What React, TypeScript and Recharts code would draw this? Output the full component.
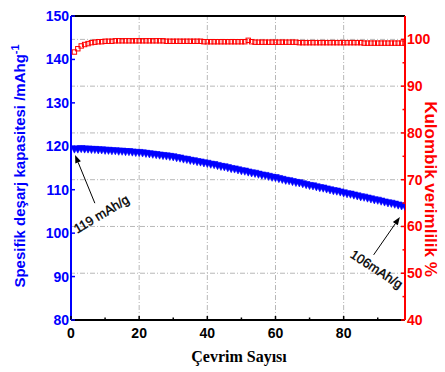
import React from "react";
import {
  ComposedChart,
  Scatter,
  XAxis,
  YAxis,
  ReferenceLine,
  ReferenceDot,
} from "recharts";

const cycles = Array.from({ length: 98 }, (_, i) => i + 1);

// specific discharge capacity, mAh/g
const capacity = [
  119.3, 119.3, 119.4, 119.3, 119.3, 119.2, 119.2, 119.1, 119.1, 119.0,
  119.0, 118.9, 118.9, 118.8, 118.8, 118.7, 118.7, 118.6, 118.5, 118.5,
  118.4, 118.3, 118.2, 118.1, 118.0, 117.9, 117.8, 117.7, 117.6, 117.5,
  117.3, 117.2, 117.0, 116.9, 116.7, 116.6, 116.4, 116.3, 116.1, 116.0,
  115.8, 115.7, 115.5, 115.3, 115.2, 115.0, 114.8, 114.7, 114.5, 114.3,
  114.2, 114.0, 113.8, 113.7, 113.5, 113.3, 113.2, 113.0, 112.8, 112.7,
  112.5, 112.3, 112.1, 112.0, 111.8, 111.6, 111.5, 111.3, 111.1, 110.9,
  110.8, 110.6, 110.4, 110.3, 110.1, 109.9, 109.7, 109.6, 109.4, 109.2,
  109.0, 108.9, 108.7, 108.5, 108.3, 108.2, 108.0, 107.8, 107.6, 107.5,
  107.3, 107.1, 106.9, 106.8, 106.6, 106.4, 106.2, 106.1,
];

// coulombic efficiency, %
const efficiency = [
  97.3, 98.0, 98.6, 98.9, 99.1, 99.3, 99.4, 99.5, 99.5, 99.6,
  99.6, 99.6, 99.7, 99.7, 99.7, 99.7, 99.7, 99.7, 99.7, 99.7,
  99.7, 99.7, 99.7, 99.7, 99.7, 99.7, 99.7, 99.6, 99.6, 99.6,
  99.6, 99.6, 99.6, 99.6, 99.6, 99.6, 99.6, 99.6, 99.5, 99.5,
  99.5, 99.5, 99.5, 99.5, 99.5, 99.5, 99.5, 99.5, 99.5, 99.5,
  99.5, 99.8, 99.5, 99.4, 99.4, 99.4, 99.4, 99.4, 99.4, 99.4,
  99.4, 99.4, 99.4, 99.4, 99.4, 99.4, 99.3, 99.3, 99.3, 99.3,
  99.3, 99.3, 99.3, 99.3, 99.3, 99.3, 99.3, 99.3, 99.3, 99.3,
  99.3, 99.3, 99.3, 99.3, 99.3, 99.2, 99.2, 99.2, 99.2, 99.2,
  99.2, 99.2, 99.2, 99.2, 99.2, 99.2, 99.2, 99.2,
];

const xTicks = [0, 10, 20, 30, 40, 50, 60, 70, 80, 90];
const xMajor = [0, 20, 40, 60, 80];
const leftTicks = [80, 85, 90, 95, 100, 105, 110, 115, 120, 125, 130, 135, 140, 145, 150];
const rightTicks = [40, 45, 50, 55, 60, 65, 70, 75, 80, 85, 90, 95, 100];
const gridY = [50, 60, 70, 80, 90, 100];
const gridX = [20, 40, 60, 80];

const capData = cycles.map((c, i) => ({ x: c, y: capacity[i] }));
const effData = cycles.map((c, i) => ({ x: c, y: efficiency[i] }));

const BLUE = "#0000ff";
const RED = "#ff0000";
const FONT = "'Liberation Sans', Arial, sans-serif";

const Triangle = (p: any) => (
  <polygon
    points={`${p.cx - 3.8},${p.cy - 3.4} ${p.cx + 3.8},${p.cy - 3.4} ${p.cx},${p.cy + 3.8}`}
    fill={BLUE}
    stroke={BLUE}
    strokeWidth={0.6}
  />
);

const Square = (p: any) => (
  <rect x={p.cx - 2.2} y={p.cy - 2.2} width={4.4} height={4.4} fill="none" stroke={RED} strokeWidth={1} />
);

const LeftTick = (p: any) => {
  const v = p.payload.value;
  const major = v % 10 === 0;
  return (
    <g>
      <line x1={p.x} x2={p.x + (major ? 4 : 2.5)} y1={p.y} y2={p.y} stroke={BLUE} strokeWidth={1.5} />
      {major && (
        <text x={p.x - 2} y={p.y + 5} textAnchor="end" fill={BLUE} fontSize={14} fontWeight="bold" fontFamily={FONT}>
          {v}
        </text>
      )}
    </g>
  );
};

const RightTick = (p: any) => {
  const v = p.payload.value;
  const major = v % 10 === 0;
  return (
    <g>
      <line x1={p.x - (major ? 4 : 2.5)} x2={p.x} y1={p.y} y2={p.y} stroke={RED} strokeWidth={1.5} />
      {major && (
        <text x={p.x + 2} y={p.y + 5} textAnchor="start" fill={RED} fontSize={14} fontWeight="bold" fontFamily={FONT}>
          {v}
        </text>
      )}
    </g>
  );
};

const BottomTick = (p: any) => {
  const v = p.payload.value;
  const major = xMajor.includes(v);
  return (
    <g>
      <line x1={p.x} x2={p.x} y1={p.y} y2={p.y - (major ? 4 : 2.5)} stroke="#000" strokeWidth={1.5} />
      {major && (
        <text x={p.x} y={p.y + 18} textAnchor="middle" fill="#000" fontSize={14} fontWeight="bold" fontFamily={FONT}>
          {v}
        </text>
      )}
    </g>
  );
};

const Arrow = (p: any) => {
  const { x1, y1, x2, y2 } = p;
  const a = Math.atan2(y2 - y1, x2 - x1);
  const L = 8;
  const W = 3;
  const bx = x2 - L * Math.cos(a);
  const by = y2 - L * Math.sin(a);
  const nx = -Math.sin(a) * W;
  const ny = Math.cos(a) * W;
  return (
    <g>
      <line x1={x1} y1={y1} x2={bx} y2={by} stroke="#000" strokeWidth={1} />
      <polygon points={`${x2},${y2} ${bx + nx},${by + ny} ${bx - nx},${by - ny}`} fill="#000" />
    </g>
  );
};

const noteShape = (text: string, angle: number) => (p: any) => (
  <text
    x={p.cx}
    y={p.cy}
    transform={`rotate(${angle} ${p.cx} ${p.cy})`}
    textAnchor="middle"
    dominantBaseline="middle"
    fontSize={13}
    fontFamily={FONT}
    fill="#000"
    stroke="#000"
    strokeWidth={0.35}
  >
    {text}
  </text>
);

export default function App() {
  return (
    <div style={{ position: "absolute", left: 0, top: 0, width: 445, height: 372, background: "#fff" }}>
      <ComposedChart width={445} height={372} margin={{ top: 16, right: 0, left: 0, bottom: 0 }}>
        <XAxis
          type="number"
          dataKey="x"
          domain={[0, 98]}
          ticks={xTicks}
          tick={<BottomTick />}
          tickLine={false}
          tickSize={0}
          tickMargin={0}
          height={52}
          axisLine={{ stroke: "#000", strokeWidth: 2 }}
          allowDataOverflow
        />
        <YAxis
          yAxisId="left"
          type="number"
          dataKey="y"
          domain={[80, 150]}
          ticks={leftTicks}
          tick={<LeftTick />}
          tickLine={false}
          tickSize={0}
          tickMargin={0}
          width={71}
          axisLine={{ stroke: BLUE, strokeWidth: 2 }}
          allowDataOverflow
        />
        <YAxis
          yAxisId="right"
          orientation="right"
          type="number"
          dataKey="y"
          domain={[40, 105]}
          ticks={rightTicks}
          tick={<RightTick />}
          tickLine={false}
          tickSize={0}
          tickMargin={0}
          width={40}
          axisLine={{ stroke: RED, strokeWidth: 2 }}
          allowDataOverflow
        />
        {gridY.map((v) => (
          <ReferenceLine key={"gy" + v} yAxisId="right" y={v} stroke="#b8b8b8" strokeDasharray="5 2 1 2" strokeWidth={1} />
        ))}
        {gridX.map((v) => (
          <ReferenceLine key={"gx" + v} yAxisId="left" x={v} stroke="#b8b8b8" strokeDasharray="5 2 1 2" strokeWidth={1} />
        ))}
        <ReferenceLine yAxisId="left" y={150} stroke="#000" strokeWidth={2} />
        <Scatter yAxisId="right" data={effData} shape={<Square />} isAnimationActive={false} />
        <Scatter yAxisId="left" data={capData} shape={<Triangle />} isAnimationActive={false} />
        <ReferenceLine
          yAxisId="left"
          segment={[{ x: 7, y: 106.9 }, { x: 1.2, y: 118.0 }]}
          shape={<Arrow />}
          ifOverflow="visible"
        />
        <ReferenceLine
          yAxisId="left"
          segment={[{ x: 88.8, y: 95.0 }, { x: 96.5, y: 103.7 }]}
          shape={<Arrow />}
          ifOverflow="visible"
        />
        <ReferenceDot yAxisId="left" x={9.1} y={104.2} r={0} shape={noteShape("119 mAh/g", -31)} ifOverflow="visible" />
        <ReferenceDot yAxisId="left" x={89.5} y={91.5} r={0} shape={noteShape("106mAh/g", 33)} ifOverflow="visible" />
      </ComposedChart>
      <svg width={445} height={372} style={{ position: "absolute", left: 0, top: 0, pointerEvents: "none" }}>
        <text
          transform="translate(25 166) rotate(-90)"
          textAnchor="middle"
          fill={BLUE}
          fontSize={15}
          fontWeight="bold"
          fontFamily={FONT}
        >
          Spesifik deşarj kapasitesi /mAhg
          <tspan dy={-6} fontSize={11}>-1</tspan>
        </text>
        <text
          transform="translate(425 189) rotate(90)"
          textAnchor="middle"
          fill={RED}
          fontSize={17}
          fontWeight="bold"
          fontFamily={FONT}
        >
          Kulombik verimlilik %
        </text>
        <text x={239} y={362} textAnchor="middle" fill="#000" fontSize={16} fontWeight="bold" fontFamily="'Liberation Serif', 'DejaVu Serif', serif">
          Çevrim Sayısı
        </text>
      </svg>
    </div>
  );
}
